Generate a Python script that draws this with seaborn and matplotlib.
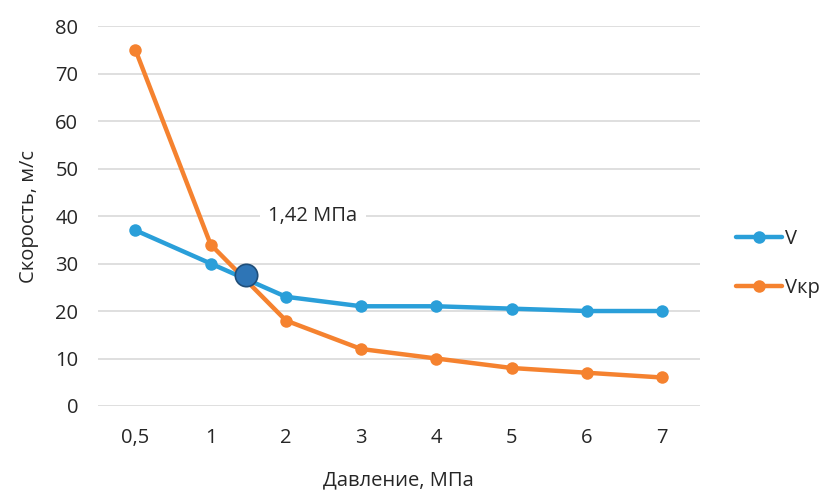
import matplotlib
matplotlib.use("Agg")
import matplotlib.pyplot as plt
import seaborn as sns
import pandas as pd
import numpy as np
from matplotlib.lines import Line2D

categories = ["0,5", "1", "2", "3", "4", "5", "6", "7"]
v_values = [37, 30, 23, 21, 21, 20.5, 20, 20]
vkr_values = [75, 34, 18, 12, 10, 8, 7, 6]
series_names = ["V", "Vкр"]
cross_x = [1.47]   # position between categories "1" and "2"
cross_y = [27.6]
cross_label = "1,42 МПа"
yticks = [0, 10, 20, 30, 40, 50, 60, 70, 80]

sns.set_theme(style="white")
plt.rcParams['font.family'] = ['Open Sans', 'DejaVu Sans']

pos = list(range(len(categories)))
df = pd.DataFrame({
    "pos": pos * 2,
    "val": v_values + vkr_values,
    "series": [series_names[0]] * len(pos) + [series_names[1]] * len(pos),
})

fig = plt.figure(figsize=(8.36, 4.93), dpi=100)
ax = fig.add_axes([0.117, 0.1765, 0.72, 0.7705])

palette = {series_names[0]: "#2A9FD9", series_names[1]: "#F5822F"}
sns.lineplot(data=df, x="pos", y="val", hue="series", palette=palette,
             marker="o", markersize=9, markeredgewidth=0, linewidth=3.2,
             ax=ax, legend=False, zorder=3)
ax.scatter(cross_x, cross_y, s=260, color="#2E75B6", edgecolor="#1F4E79",
           linewidth=1.2, zorder=5)

FS = 14.5
ax.text(2.36, 40, cross_label, ha="center", va="center", fontsize=FS,
        color="#262626", zorder=4,
        bbox=dict(boxstyle="square,pad=0.4", fc="white", ec="none"))

ax.set_xlim(-0.5, len(categories) - 0.5)
ax.set_ylim(0, 80)
ax.set_yticks(yticks)
ax.set_xticks(pos)
ax.set_xticklabels(categories)
ax.grid(axis="y", color="#D9D9D9", linewidth=1.2, zorder=0)
ax.set_axisbelow(True)
for s in ax.spines.values():
    s.set_visible(False)
ax.tick_params(axis="both", length=0, labelsize=FS, colors="#262626")
ax.tick_params(axis="x", pad=16)
ax.tick_params(axis="y", pad=14)
ax.set_xlabel("Давление, МПа", fontsize=FS, color="#262626", labelpad=16)
ax.set_ylabel("Скорость, м/с", fontsize=FS, color="#262626", labelpad=12)

handles = [Line2D([0], [0], color=palette[n], lw=3.2, marker="o", markersize=9,
                  markeredgewidth=0) for n in series_names]
leg = fig.legend(handles, series_names, loc="center left",
                 bbox_to_anchor=(0.880, 0.466), frameon=False, fontsize=FS,
                 handlelength=2.3, handletextpad=0.15, labelspacing=1.45,
                 borderpad=0, borderaxespad=0)
for t in leg.get_texts():
    t.set_color("#262626")

fig.savefig("out.png", dpi=100)
